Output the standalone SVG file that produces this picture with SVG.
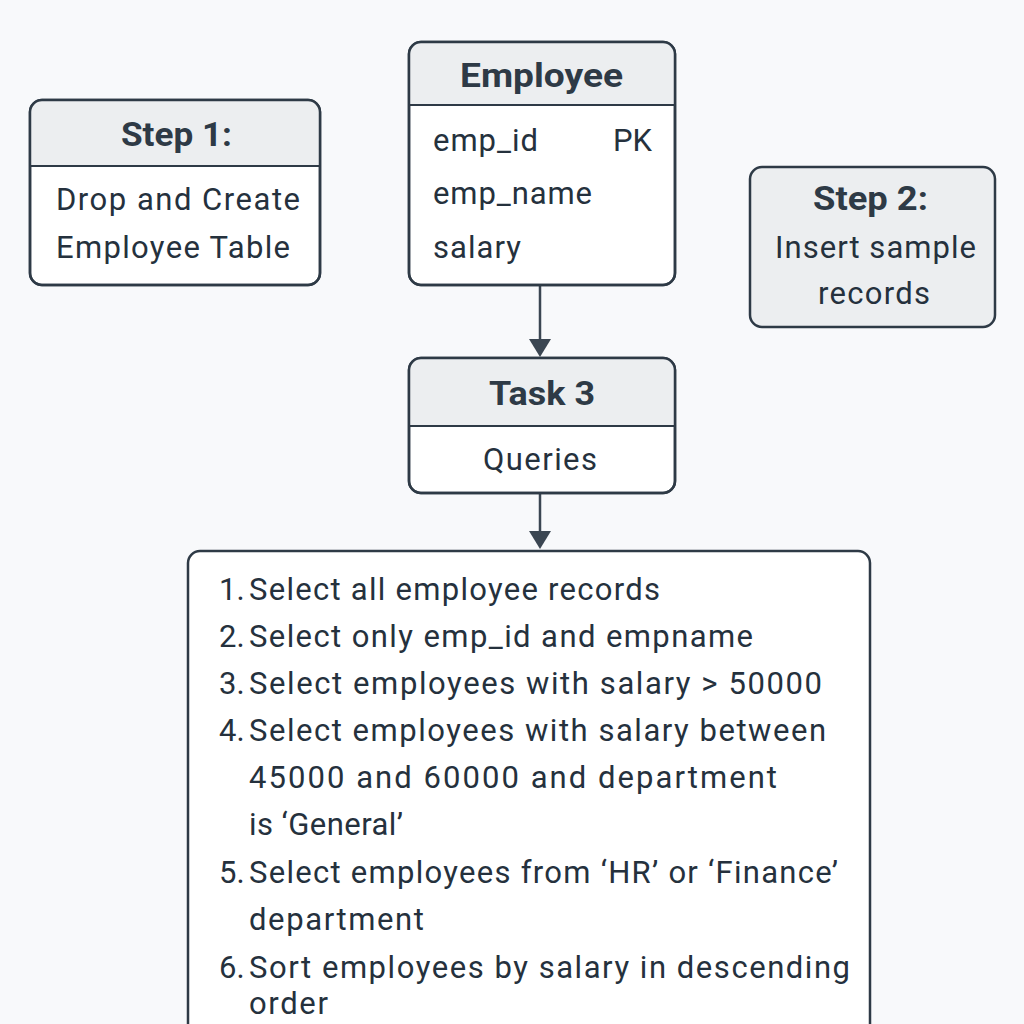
<svg xmlns="http://www.w3.org/2000/svg" width="1024" height="1024" viewBox="0 0 1024 1024">
<defs>
<style>
.box{fill:#ffffff;stroke:#2e3a46;stroke-width:2.5}
.hdr{fill:#eceef0}
.div{stroke:#2e3a46;stroke-width:2}
.t{font-family:Roboto,"Liberation Sans",sans-serif;fill:#25313d}
.b{font-weight:bold;font-size:33px;fill:#2e3a46}
.n{font-size:31px}
.l{font-size:31px}
.edge{stroke:#3b4652;stroke-width:2.5;fill:none}
</style>
<clipPath id="c1"><rect x="30" y="100" width="290" height="185" rx="12"/></clipPath>
<clipPath id="c2"><rect x="409" y="42" width="266" height="243" rx="12"/></clipPath>
<clipPath id="c3"><rect x="409" y="358" width="266" height="135" rx="12"/></clipPath>
</defs>
<rect width="1024" height="1024" fill="#f8f9fb"/>
<g id="connectors">
<path class="edge" d="M540,286 V340"/>
<path d="M529,339 L551,339 L540,357 z" fill="#3b4652"/>
<path class="edge" d="M540,494 V532"/>
<path d="M529,531 L551,531 L540,549 z" fill="#3b4652"/>
</g>
<g id="step1">
<rect class="box" x="30" y="100" width="290" height="185" rx="12"/>
<rect class="hdr" x="30" y="100" width="290" height="66" clip-path="url(#c1)"/>
<line class="div" x1="30" y1="166" x2="320" y2="166"/>
<rect x="30" y="100" width="290" height="185" rx="12" fill="none" stroke="#2e3a46" stroke-width="2.5"/>
<text class="t b" x="121" y="146" textLength="111" lengthAdjust="spacingAndGlyphs">Step 1:</text>
<text class="t n" x="56" y="210" textLength="244">Drop and Create</text>
<text class="t n" x="56" y="258" textLength="234">Employee Table</text>
</g>
<g id="employee">
<rect class="box" x="409" y="42" width="266" height="243" rx="12"/>
<rect class="hdr" x="409" y="42" width="266" height="63" clip-path="url(#c2)"/>
<line class="div" x1="409" y1="105" x2="675" y2="105"/>
<rect x="409" y="42" width="266" height="243" rx="12" fill="none" stroke="#2e3a46" stroke-width="2.5"/>
<text class="t b" x="460" y="87" textLength="163" lengthAdjust="spacingAndGlyphs">Employee</text>
<text class="t n" x="433" y="151" textLength="105">emp_id</text>
<text class="t n" x="613" y="151" textLength="39">PK</text>
<text class="t n" x="433" y="204" textLength="159">emp_name</text>
<text class="t n" x="433" y="258" textLength="88">salary</text>
</g>
<g id="step2">
<rect x="750" y="167" width="245" height="160" rx="12" fill="#eceef0" stroke="#2e3a46" stroke-width="2.5"/>
<text class="t b" x="813" y="210" textLength="115" lengthAdjust="spacingAndGlyphs">Step 2:</text>
<text class="t n" x="775" y="258" textLength="201">Insert sample</text>
<text class="t n" x="818" y="304" textLength="112">records</text>
</g>
<g id="task3">
<rect class="box" x="409" y="358" width="266" height="135" rx="12"/>
<rect class="hdr" x="409" y="358" width="266" height="68" clip-path="url(#c3)"/>
<line class="div" x1="409" y1="426" x2="675" y2="426"/>
<rect x="409" y="358" width="266" height="135" rx="12" fill="none" stroke="#2e3a46" stroke-width="2.5"/>
<text class="t b" x="489" y="405" textLength="106" lengthAdjust="spacingAndGlyphs">Task 3</text>
<text class="t n" x="483" y="470" textLength="114">Queries</text>
</g>
<g id="queries">
<rect class="box" x="188" y="551" width="682" height="500" rx="12"/>
<text class="t l" x="219" y="600">1.</text>
<text class="t l" x="249" y="600" textLength="411">Select all employee records</text>
<text class="t l" x="219" y="647">2.</text>
<text class="t l" x="249" y="647" textLength="504">Select only emp_id and empname</text>
<text class="t l" x="219" y="694">3.</text>
<text class="t l" x="249" y="694" textLength="573">Select employees with salary &gt; 50000</text>
<text class="t l" x="219" y="741">4.</text>
<text class="t l" x="249" y="741" textLength="577">Select employees with salary between</text>
<text class="t l" x="249" y="788" textLength="528">45000 and 60000 and department</text>
<text class="t l" x="249" y="835" textLength="154">is ‘General’</text>
<text class="t l" x="219" y="883">5.</text>
<text class="t l" x="249" y="883" textLength="589">Select employees from ‘HR’ or ‘Finance’</text>
<text class="t l" x="249" y="930" textLength="175">department</text>
<text class="t l" x="219" y="978">6.</text>
<text class="t l" x="249" y="978" textLength="601">Sort employees by salary in descending</text>
<text class="t l" x="249" y="1014" textLength="79">order</text>
</g>
</svg>
